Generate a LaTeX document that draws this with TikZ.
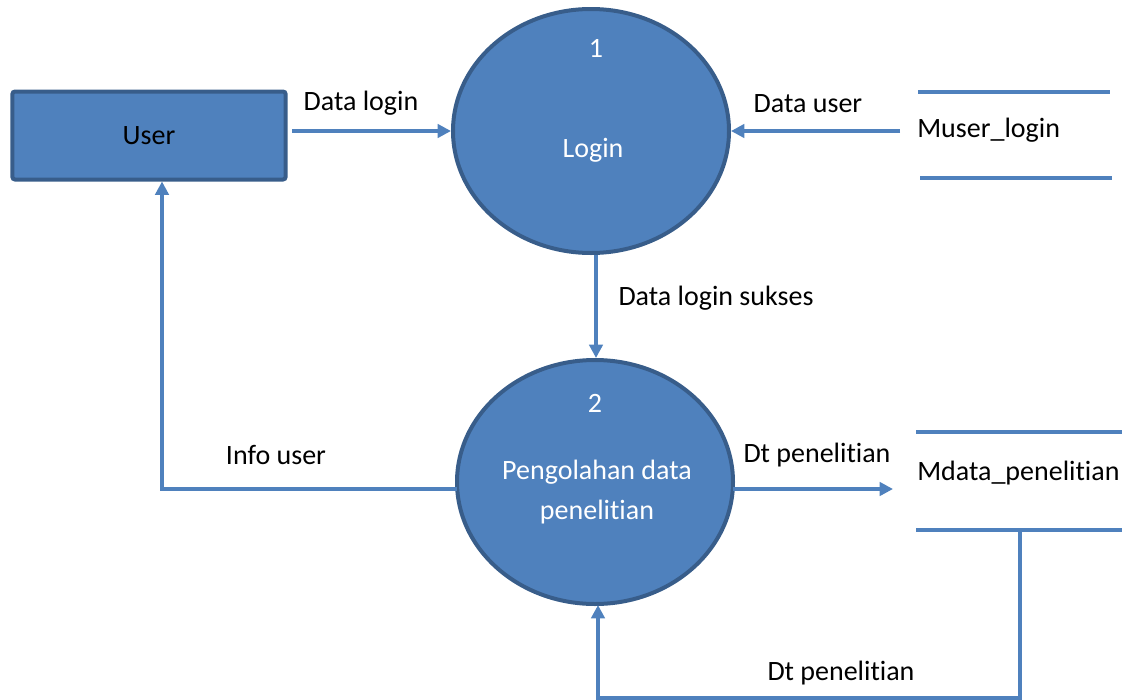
\documentclass[tikz,border=0pt]{standalone}
\usepackage{fontspec}
\setmainfont{Carlito}[Ligatures=NoCommon]
\usetikzlibrary{shapes.geometric,arrows.meta}
\definecolor{fillblue}{HTML}{4F81BD}
\definecolor{edgeblue}{HTML}{385D8A}
\tikzset{
  proc/.style={ellipse,draw=edgeblue,fill=fillblue,line width=3pt,inner sep=0pt,minimum width=207pt,minimum height=183pt},
  ent/.style={rectangle,rounded corners=2pt,draw=edgeblue,fill=fillblue,line width=3pt,minimum width=205pt,minimum height=66pt,font=\fontsize{21}{25}\selectfont},
  wtxt/.style={text=white,font=\fontsize{21}{25}\selectfont,inner sep=0pt},
  btxt/.style={text=black,font=\fontsize{21}{25}\selectfont,inner sep=0pt},
  flow/.style={draw=fillblue,line width=2.6pt,-{Triangle[length=10pt,width=10pt]}},
  storeline/.style={draw=fillblue,line width=3.6pt},
}
\begin{document}
\begin{tikzpicture}[x=0.75pt,y=-0.75pt]
\useasboundingbox (0,0) rectangle (1122,700);
% external entity
\node[ent] (user) at (149,135.5) {User};
% processes
\node[proc] (p1) at (591,131) {};
\node[wtxt] (p1n) at (596,48) {1};
\node[wtxt] (p1t) at (593,150) {Login};
\node[proc] (p2) at (595,482) {};
\node[wtxt] (p2n) at (595,403) {2};
\node[wtxt,align=center] (p2t) at (597,492) {Pengolahan data\\[5pt]penelitian};
% data stores
\draw[storeline] (918,92) -- (1110,92);
\draw[storeline] (920,178) -- (1112,178);
\node[btxt,anchor=west] (ds1) at (917,130) {Muser\_login};
\draw[storeline] (916,432) -- (1122,432);
\draw[storeline] (916,530) -- (1122,530);
\node[btxt,anchor=west] (ds2) at (917,473) {Mdata\_penelitian};
% connector endpoints
\coordinate (uE) at (292,131);
\coordinate (ds1W) at (900,131);
\coordinate (ds2W) at (893,489);
\coordinate (ds2B) at (1020,530);
\coordinate (bend1) at (162,489);
\coordinate (bend2) at (1020,698);
\coordinate (bend3) at (598,698);
% flows
\draw[flow] (uE) -- (p1.west);
\node[btxt] (l1) at (361,103) {Data login};
\draw[flow] (ds1W) -- (p1.east);
\node[btxt] (l2) at (808,104) {Data user};
\draw[flow] (p1.south -| 596,0) -- (596,358);
\node[btxt] (l3) at (716,298) {Data login sukses};
\draw[flow] (457,489) -- (bend1) -- (bend1 |- user.south);
\node[btxt] (l4) at (276,455) {Info user};
\draw[flow] (733,489) -- (ds2W);
\node[btxt] (l5) at (817,455) {Dt penelitian};
\draw[flow] (ds2B) -- (bend2) -- (bend3) -- (598,605);
\node[btxt] (l6) at (841,673) {Dt penelitian};
\end{tikzpicture}
\end{document}
